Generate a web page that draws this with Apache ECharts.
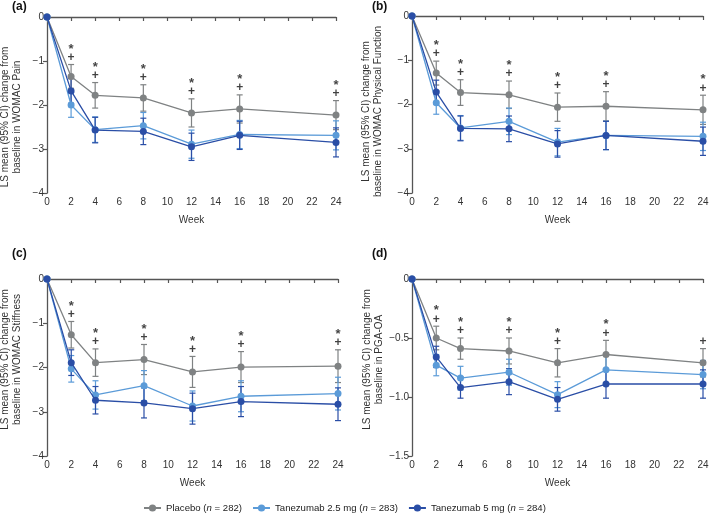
<!DOCTYPE html>
<html>
<head>
<meta charset="utf-8">
<script src="https://cdn.jsdelivr.net/npm/echarts@6/dist/echarts.min.js"></script>
<style>
html,body{margin:0;padding:0;background:#fff;}
#chart{width:709px;height:514px;}
</style>
</head>
<body>
<div id="chart"></div>
<script>
const weeks = [0, 2, 4, 8, 12, 16, 24];
const seriesNames = ['Placebo', 'Tanezumab 2.5 mg', 'Tanezumab 5 mg'];
const seriesN = [282, 283, 284];
const panelTitles = ['(a)', '(b)', '(c)', '(d)'];
const yNames = [
  'LS mean (95% CI) change from\nbaseline in WOMAC Pain',
  'LS mean (95% CI) change from\nbaseline in WOMAC Physical Function',
  'LS mean (95% CI) change from\nbaseline in WOMAC Stiffness',
  'LS mean (95% CI) change from\nbaseline in PGA-OA'
];
const yMin = [-4, -4, -4, -1.5];
const yStep = [1, 1, 1, 0.5];

// (a) WOMAC Pain
const painPlacebo   = [0, -1.35, -1.78, -1.84, -2.18, -2.09, -2.23];
const painPlaceboCI = [0, 0.27, 0.29, 0.30, 0.32, 0.32, 0.33];
const pain25        = [0, -2.00, -2.56, -2.47, -2.89, -2.67, -2.69];
const pain25CI      = [0, 0.28, 0.29, 0.30, 0.32, 0.32, 0.33];
const pain5         = [0, -1.68, -2.57, -2.60, -2.95, -2.69, -2.85];
const pain5CI       = [0, 0.28, 0.29, 0.30, 0.31, 0.32, 0.33];
const painSig       = ['', '*+', '*+', '*+', '*+', '*+', '*+'];

// (b) WOMAC Physical Function
const physPlacebo   = [0, -1.29, -1.73, -1.78, -2.06, -2.04, -2.12];
const physPlaceboCI = [0, 0.27, 0.29, 0.31, 0.32, 0.33, 0.33];
const phys25        = [0, -1.96, -2.53, -2.38, -2.85, -2.70, -2.72];
const phys25CI      = [0, 0.26, 0.28, 0.30, 0.31, 0.32, 0.32];
const phys5         = [0, -1.72, -2.54, -2.55, -2.89, -2.70, -2.83];
const phys5CI       = [0, 0.27, 0.28, 0.29, 0.30, 0.32, 0.32];
const physSig       = ['', '*+', '*+', '*+', '*+', '*+', '*+'];

// (c) WOMAC Stiffness
const stiffPlacebo   = [0, -1.26, -1.89, -1.82, -2.10, -1.99, -1.97];
const stiffPlaceboCI = [0, 0.30, 0.31, 0.34, 0.35, 0.35, 0.37];
const stiff25        = [0, -2.03, -2.62, -2.41, -2.87, -2.65, -2.59];
const stiff25CI      = [0, 0.30, 0.32, 0.34, 0.34, 0.35, 0.37];
const stiff5         = [0, -1.89, -2.74, -2.80, -2.93, -2.77, -2.83];
const stiff5CI       = [0, 0.29, 0.31, 0.34, 0.35, 0.34, 0.37];
const stiffSig       = ['', '*+', '*+', '*+', '*+', '*+', '*+'];

// (d) PGA-OA
const pgaPlacebo   = [0, -0.50, -0.59, -0.61, -0.71, -0.64, -0.71];
const pgaPlaceboCI = [0, 0.10, 0.09, 0.11, 0.12, 0.12, 0.12];
const pga25        = [0, -0.73, -0.84, -0.79, -0.98, -0.77, -0.81];
const pga25CI      = [0, 0.09, 0.10, 0.11, 0.11, 0.12, 0.12];
const pga5         = [0, -0.66, -0.92, -0.87, -1.02, -0.89, -0.89];
const pga5CI       = [0, 0.09, 0.09, 0.11, 0.10, 0.12, 0.12];
const pgaSig       = ['', '*+', '*+', '*+', '*+', '*+', '+'];

const panels = [
  {means: [painPlacebo, pain25, pain5], cis: [painPlaceboCI, pain25CI, pain5CI], sig: painSig},
  {means: [physPlacebo, phys25, phys5], cis: [physPlaceboCI, phys25CI, phys5CI], sig: physSig},
  {means: [stiffPlacebo, stiff25, stiff5], cis: [stiffPlaceboCI, stiff25CI, stiff5CI], sig: stiffSig},
  {means: [pgaPlacebo, pga25, pga5], cis: [pgaPlaceboCI, pga25CI, pga5CI], sig: pgaSig}
];

const colors = ['#7f8283', '#5b9bd8', '#2a4ea6'];
const FONT = 'Liberation Sans, Arial, sans-serif';

const grids = [
  {left: 47, top: 17, width: 289, height: 176},
  {left: 412, top: 16, width: 291, height: 177},
  {left: 47, top: 279, width: 291, height: 177},
  {left: 412, top: 279, width: 291, height: 177}
];
const titlePos = [[12, 1], [372, 1], [12, 248], [372, 248]];
const nameGaps = [24, 28, 24, 20];
const namePads = [[0, 24, 0, 0], [0, 14, 0, 0], [0, 0, 0, 16], [0, 0, 0, 16]];

const chart = echarts.init(document.getElementById('chart'));

const xAxes = [], yAxes = [], series = [], titles = [];
panels.forEach((p, i) => {
  titles.push({text: panelTitles[i], left: titlePos[i][0], top: titlePos[i][1], padding: 0,
    textStyle: {fontFamily: FONT, fontSize: 12, fontWeight: 'bold', color: '#111'}});
  xAxes.push({
    type: 'value', gridIndex: i, min: 0, max: 24, interval: 2,
    name: 'Week', nameLocation: 'middle', nameGap: 22,
    nameTextStyle: {fontFamily: FONT, fontSize: 10, color: '#333'},
    axisLine: {show: true, lineStyle: {color: '#555', width: 1.3}},
    axisTick: {show: true, length: 4, lineStyle: {color: '#555', width: 1.2}},
    axisLabel: {fontFamily: FONT, fontSize: 10, color: '#333', margin: 4},
    splitLine: {show: false}
  });
  const isD = i === 3;
  yAxes.push({
    type: 'value', gridIndex: i, min: yMin[i], max: 0, interval: yStep[i],
    name: yNames[i], nameLocation: 'middle', nameGap: nameGaps[i], nameRotate: 90,
    nameTextStyle: {fontFamily: FONT, fontSize: 10, color: '#333', lineHeight: 12, padding: namePads[i]},
    axisLine: {show: true, onZero: false, lineStyle: {color: '#555', width: 1.3}},
    axisTick: {show: true, length: 4, lineStyle: {color: '#555', width: 1.2}},
    axisLabel: {fontFamily: FONT, fontSize: 10, color: '#333', margin: 3,
      formatter: v => v === 0 ? '0' : (v < 0 ? '\u2212' : '') + (isD ? Math.abs(v).toFixed(1) : Math.abs(v))},
    splitLine: {show: false}
  });
  // error bars
  p.means.forEach((m, k) => {
    const data = weeks.map((w, j) => [w, m[j] - p.cis[k][j], m[j] + p.cis[k][j]]).filter((d, j) => p.cis[k][j] > 0);
    series.push({
      type: 'custom', name: 'ci-' + i + '-' + k, xAxisIndex: i, yAxisIndex: i,
      data: data, silent: true, z: 2,
      renderItem: function (params, api) {
        const x = api.value(0);
        const lo = api.coord([x, api.value(1)]);
        const hi = api.coord([x, api.value(2)]);
        const cap = 3;
        const st = {stroke: colors[k], lineWidth: 1.2};
        return {type: 'group', children: [
          {type: 'line', shape: {x1: lo[0], y1: lo[1], x2: hi[0], y2: hi[1]}, style: st},
          {type: 'line', shape: {x1: lo[0] - cap, y1: lo[1], x2: lo[0] + cap, y2: lo[1]}, style: st},
          {type: 'line', shape: {x1: hi[0] - cap, y1: hi[1], x2: hi[0] + cap, y2: hi[1]}, style: st}
        ]};
      }
    });
  });
  // lines
  p.means.forEach((m, k) => {
    series.push({
      type: 'line', name: seriesNames[k], xAxisIndex: i, yAxisIndex: i,
      data: weeks.map((w, j) => [w, m[j]]),
      symbol: 'circle', symbolSize: 7, z: 3 + k,
      itemStyle: {color: colors[k]},
      lineStyle: {color: colors[k], width: 1.3},
      emphasis: {disabled: true}
    });
  });
  // significance markers above placebo upper CI
  series.push({
    type: 'scatter', name: 'sig-' + i, xAxisIndex: i, yAxisIndex: i,
    data: weeks.map((w, j) => [w, p.means[0][j] + p.cis[0][j], p.sig[j]]).filter(d => d[2]),
    symbolSize: 0, silent: true, z: 6,
    label: {
      show: true, position: 'top', distance: 2,
      formatter: function (prm) {
        const s = prm.value[2];
        return s === '*+' ? '{s|*}\n{p|+}' : '{p|+}';
      },
      rich: {
        s: {fontFamily: FONT, fontSize: 13, fontWeight: 'bold', color: '#111', lineHeight: 7, height: 7},
        p: {fontFamily: FONT, fontSize: 12, fontWeight: 'bold', color: '#111', lineHeight: 10, height: 10}
      }
    }
  });
});

grids.forEach(g => { g.outerBoundsMode = 'none'; g.containLabel = false; });

chart.setOption({
  animation: false,
  backgroundColor: '#fff',
  title: titles,
  grid: grids,
  xAxis: xAxes,
  yAxis: yAxes,
  legend: {
    data: seriesNames, bottom: 1, left: 143, padding: 0, itemGap: 10, itemWidth: 17, itemHeight: 9,
    textStyle: {fontFamily: FONT, fontSize: 9.6, color: '#222',
      rich: {i: {fontFamily: FONT, fontSize: 9.6, fontStyle: 'italic', color: '#222'},
             t: {fontFamily: FONT, fontSize: 9.6, color: '#222'}}},
    formatter: function (name) {
      const k = seriesNames.indexOf(name);
      return '{t|' + name + ' (}{i|n}{t| = ' + seriesN[k] + ')}';
    }
  },
  series: series
});
</script>
</body>
</html>
